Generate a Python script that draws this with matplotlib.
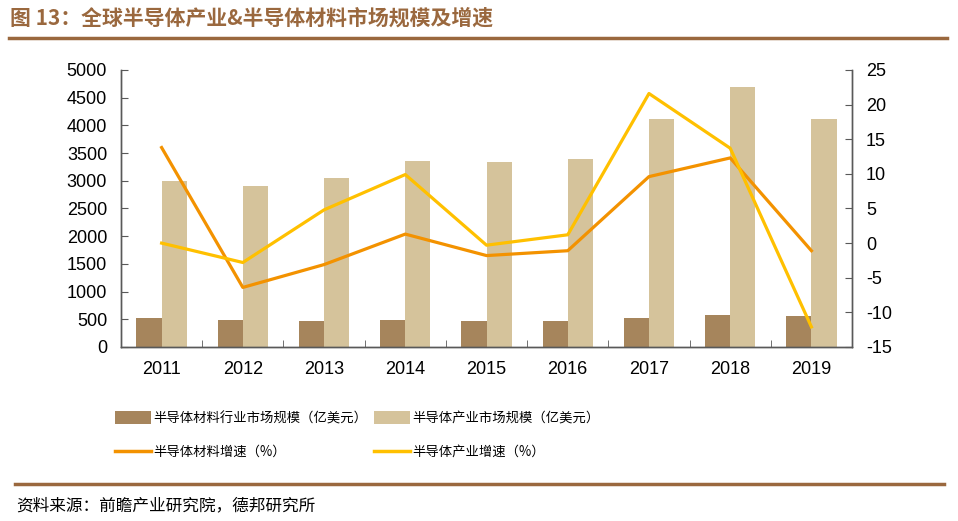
import matplotlib.pyplot as plt
from matplotlib.patches import Patch
from matplotlib.lines import Line2D
import numpy as np

plt.rcParams['font.family'] = ['Liberation Sans', 'Noto Sans CJK SC', 'DejaVu Sans']
plt.rcParams['axes.unicode_minus'] = False

# data
years = ['2011', '2012', '2013', '2014', '2015', '2016', '2017', '2018', '2019']
material_size = [520, 493, 475, 481, 475, 470, 517, 570, 565]          # 亿美元
industry_size = [2990, 2910, 3055, 3355, 3345, 3390, 4120, 4685, 4120]  # 亿美元
material_growth = [13.8, -6.4, -3.1, 1.3, -1.8, -1.1, 9.6, 12.3, -1.1]  # %
industry_growth = [0.0, -2.8, 4.8, 9.9, -0.3, 1.2, 21.6, 13.7, -12.1]   # %

c_mat_bar = '#A6855C'
c_ind_bar = '#D5C39B'
c_mat_line = '#F39200'
c_ind_line = '#FFC000'
c_brown = '#9A683E'
c_spine = '#595959'

fig = plt.figure(figsize=(9.58, 5.21), dpi=100)
ax = fig.add_axes([0.1263, 0.334, 0.7631, 0.5317])
ax2 = ax.twinx()

x = np.arange(len(years))
w = 0.31
ax.bar(x - w / 2, material_size, w, color=c_mat_bar, zorder=2)
ax.bar(x + w / 2, industry_size, w, color=c_ind_bar, zorder=2)

ax2.plot(x, material_growth, color=c_mat_line, lw=2.3, zorder=3)
ax2.plot(x, industry_growth, color=c_ind_line, lw=2.3, zorder=3)

ax.set_xlim(-0.5, len(years) - 0.5)
ax.set_ylim(0, 5000)
ax.set_yticks(np.arange(0, 5001, 500))
ax2.set_ylim(-15, 25)
ax2.set_yticks(np.arange(-15, 26, 5))

ax.set_xticks(x)
ax.set_xticklabels(years)
ax.set_xticks(np.arange(0.5, len(years) - 1, 1), minor=True)
ax.tick_params(axis='x', which='major', length=0, pad=10, labelsize=13)
ax.tick_params(axis='x', which='minor', direction='in', length=5, color=c_spine)
ax.tick_params(axis='y', direction='in', length=5, color=c_spine, pad=10, labelsize=13)
ax2.tick_params(axis='y', direction='in', length=5, color=c_spine, pad=10, labelsize=13)

for a in (ax, ax2):
    a.spines['top'].set_visible(False)
    for s in ('left', 'right', 'bottom'):
        a.spines[s].set_color(c_spine)
        a.spines[s].set_linewidth(1.0)

# legend
handles = [
    Patch(facecolor=c_mat_bar, label='半导体材料行业市场规模（亿美元）'),
    Line2D([], [], color=c_mat_line, lw=2.5, label='半导体材料增速（%）'),
    Patch(facecolor=c_ind_bar, label='半导体产业市场规模（亿美元）'),
    Line2D([], [], color=c_ind_line, lw=2.5, label='半导体产业增速（%）'),
]
fig.legend(handles=handles, ncol=2, frameon=False,
           loc='upper left', bbox_to_anchor=(0.108, 0.234),
           prop={'family': ['Noto Sans CJK SC'], 'size': 9.6},
           handlelength=2.7, handleheight=1.1, handletextpad=0.15,
           columnspacing=0.5, labelspacing=1.5)

# title, rules, source
fig.text(0.010, 0.965, '图 13：全球半导体产业&半导体材料市场规模及增速',
         family=['Noto Sans CJK SC'], weight='bold', fontsize=15,
         color=c_brown, va='center', ha='left')
fig.add_artist(Line2D([0.009, 0.988], [0.927, 0.927], color=c_brown, lw=2.5))
fig.add_artist(Line2D([0.016, 0.985], [0.071, 0.071], color=c_brown, lw=2.5))
fig.text(0.017, 0.030, '资料来源：前瞻产业研究院，德邦研究所',
         family=['Noto Sans CJK SC'], fontsize=12, color='black',
         va='center', ha='left')

fig.savefig('out.png', dpi=100)
